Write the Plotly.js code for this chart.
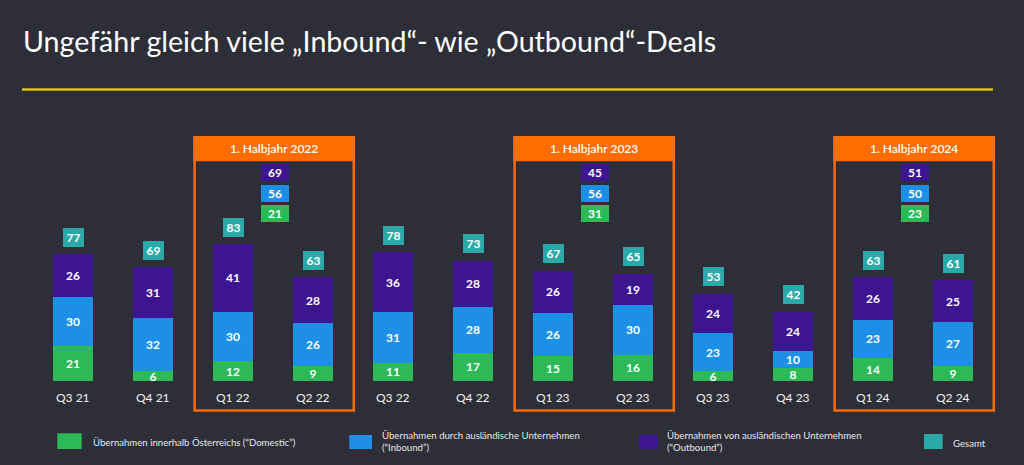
<!DOCTYPE html>
<html>
<head>
<meta charset="utf-8">
<script src="https://cdn.plot.ly/plotly-3.0.1.min.js"></script>
<style>
html,body{margin:0;padding:0;background:#2d2e38;}
#chart{width:1024px;height:465px;}
</style>
</head>
<body>
<div id="chart"></div>
<script>
// ---------- data ----------
const categories = ['Q3 21','Q4 21','Q1 22','Q2 22','Q3 22','Q4 22','Q1 23','Q2 23','Q3 23','Q4 23','Q1 24','Q2 24'];
const domestic   = [21, 6, 12, 9, 11, 17, 15, 16, 6, 8, 14, 9];
const inbound    = [30, 32, 30, 26, 31, 28, 26, 30, 23, 10, 23, 27];
const outbound   = [26, 31, 41, 28, 36, 28, 26, 19, 24, 24, 26, 25];
const total      = [77, 69, 83, 63, 78, 73, 67, 65, 53, 42, 63, 61];

const halfLabels   = ['1. Halbjahr 2022', '1. Halbjahr 2023', '1. Halbjahr 2024'];
const halfFirstQ   = ['Q1 22', 'Q1 23', 'Q1 24'];
const halfDomestic = [21, 31, 23];
const halfInbound  = [56, 56, 50];
const halfOutbound = [69, 45, 51];

const seriesNames = [
  'Übernahmen innerhalb Österreichs (“Domestic”)',
  'Übernahmen durch ausländische Unternehmen<br>(“Inbound”)',
  'Übernahmen von ausländischen Unternehmen<br>(“Outbound”)',
  'Gesamt'
];
const titleText = 'Ungefähr gleich viele „Inbound“- wie „Outbound“-Deals';

// ---------- style ----------
const BG = '#2d2e38';
const GREEN = '#2db955', BLUE = '#1e8fe6', PURPLE = '#3d1590', TEAL = '#2aa9a9', ORANGE = '#ff6c00', YELLOW = '#dcc400';
const FONT = 'Lato, "Open Sans", sans-serif';

const W = 1024, H = 465, L = 23, R = 21, T = 125, B = 45;
const PW = W - L - R, PH = H - T - B;
const yMin = -23.67, yMax = 155.3;
const pX = px => (px - L) / PW;            // pixel -> paper x
const pY = py => (H - B - py) / PH;        // pixel -> paper y
const dY = py => yMin + (H - B - py) / PH * (yMax - yMin); // pixel -> data y

function barTrace(vals, name, color) {
  return {
    type: 'bar', x: categories, y: vals, name: name,
    marker: {color: color, line: {width: 0}},
    text: vals.map(String), textposition: 'inside', insidetextanchor: 'middle', textangle: 0,
    textfont: {family: FONT, size: 12, color: '#ffffff', weight: 'bold'},
    hoverinfo: 'skip', showlegend: false
  };
}
const traces = [
  barTrace(domestic, 'Domestic', GREEN),
  barTrace(inbound, 'Inbound', BLUE),
  barTrace(outbound, 'Outbound', PURPLE)
];

const annotations = [];
const shapes = [];

// totals and category labels
categories.forEach((c, i) => {
  annotations.push({
    x: c, y: total[i], xref: 'x', yref: 'y', yshift: 17, showarrow: false,
    text: String(total[i]), bgcolor: TEAL, width: 19, height: 17, borderpad: 1, borderwidth: 0,
    xanchor: 'center', yanchor: 'middle',
    font: {family: FONT, size: 12, color: '#ffffff', weight: 'bold'}
  });
  annotations.push({
    x: c, y: dY(397.5), xref: 'x', yref: 'y', showarrow: false, text: c,
    xanchor: 'center', yanchor: 'middle',
    font: {family: FONT, size: 12, color: '#f2f2f2'}
  });
});

// half-year frames
halfLabels.forEach((lab, h) => {
  const idx = categories.indexOf(halfFirstQ[h]);
  const x0 = idx - 0.48, x1 = idx + 1.51, xc = idx + 0.52;
  shapes.push({type: 'rect', xref: 'x', yref: 'y', x0: x0, x1: x1, y0: dY(410.4), y1: dY(137.3),
    line: {color: ORANGE, width: 2.5}, fillcolor: 'rgba(0,0,0,0)'});
  shapes.push({type: 'rect', xref: 'x', yref: 'y', x0: x0, x1: x1, y0: dY(160), y1: dY(137.3),
    line: {color: ORANGE, width: 2.5}, fillcolor: ORANGE});
  annotations.push({x: (x0 + x1) / 2, y: dY(148), xref: 'x', yref: 'y', showarrow: false, text: lab,
    xanchor: 'center', yanchor: 'middle', font: {family: FONT, size: 12, color: '#ffffff', weight: 600}});
  const boxes = [[halfOutbound[h], PURPLE, 172.5], [halfInbound[h], BLUE, 193.1], [halfDomestic[h], GREEN, 213.7]];
  boxes.forEach(b => {
    annotations.push({x: xc, y: dY(b[2]), xref: 'x', yref: 'y', showarrow: false, text: String(b[0]),
      bgcolor: b[1], width: 26, height: 15, borderpad: 1, borderwidth: 0,
      xanchor: 'center', yanchor: 'middle', font: {family: FONT, size: 12, color: '#ffffff', weight: 'bold'}});
  });
});

// yellow rule under title
shapes.push({type: 'line', xref: 'paper', yref: 'paper', x0: pX(22), x1: pX(993), y0: pY(89.5), y1: pY(89.5),
  line: {color: YELLOW, width: 2.3}});

// manual legend
const legendItems = [
  {color: GREEN,  sx0: 57.3,  sx1: 81.7,  sy0: 433.3, sy1: 449, tx: 90.7,  ty: 442.7},
  {color: BLUE,   sx0: 349.3, sx1: 372,   sy0: 435,   sy1: 449, tx: 380,   ty: 441},
  {color: PURPLE, sx0: 639,   sx1: 657.7, sy0: 435,   sy1: 449, tx: 665,   ty: 441},
  {color: TEAL,   sx0: 924,   sx1: 942.7, sy0: 434,   sy1: 449, tx: 950.7, ty: 443}
];
legendItems.forEach((it, k) => {
  shapes.push({type: 'rect', xref: 'paper', yref: 'paper', x0: pX(it.sx0), x1: pX(it.sx1), y0: pY(it.sy1), y1: pY(it.sy0),
    line: {width: 0}, fillcolor: it.color});
  annotations.push({x: pX(it.tx), y: pY(it.ty), xref: 'paper', yref: 'paper', showarrow: false,
    text: seriesNames[k], xanchor: 'left', yanchor: 'middle', align: 'left',
    font: {family: FONT, size: 9.6, color: '#e6e6e6'}});
});

const layout = {
  width: W, height: H,
  margin: {l: L, r: R, t: T, b: B, pad: 0},
  paper_bgcolor: BG, plot_bgcolor: BG,
  barmode: 'stack', bargap: 0.5,
  showlegend: false,
  uniformtext: {mode: 'show', minsize: 12},
  title: {text: titleText, xref: 'container', yref: 'container', x: 23 / W, xanchor: 'left',
    y: 1 - 42 / H, yanchor: 'middle', font: {family: FONT, size: 28.6, color: '#ffffff'}},
  xaxis: {type: 'category', range: [-0.625, 11.625], showgrid: false, zeroline: false, showline: false,
    showticklabels: false, ticks: '', fixedrange: true},
  yaxis: {range: [yMin, yMax], showgrid: false, zeroline: false, showline: false,
    showticklabels: false, ticks: '', fixedrange: true},
  shapes: shapes,
  annotations: annotations
};

Plotly.newPlot('chart', traces, layout, {displayModeBar: false, staticPlot: true});
</script>
</body>
</html>
